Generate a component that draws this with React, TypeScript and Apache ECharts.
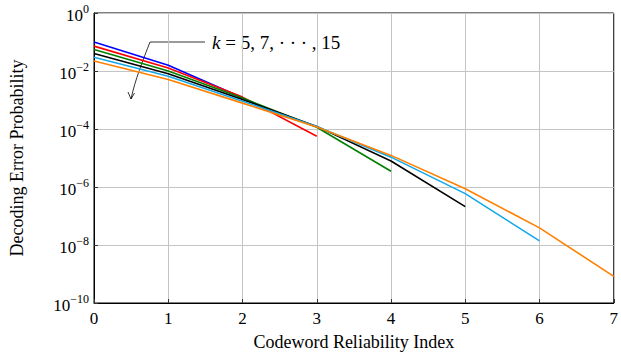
import React, { useEffect, useRef } from "react";
import * as echarts from "echarts";

const xCategories = [0, 1, 2, 3, 4, 5, 6, 7];
const seriesNames = ["k=5", "k=7", "k=9", "k=11", "k=13", "k=15"];
const seriesColors = ["#0000ff", "#ff0000", "#008000", "#000000", "#13a8e8", "#ff8000"];
const k5 = [1.0e-1, 1.58e-2, 1.2e-3];
const k7 = [7.2e-2, 1.26e-2, 1.26e-3, 5.6e-5];
const k9 = [5.5e-2, 1.0e-2, 1.17e-3, 1.15e-4, 3.5e-6];
const k11 = [4.0e-2, 8.1e-3, 1.05e-3, 1.23e-4, 7.9e-6, 2.1e-7];
const k13 = [3.0e-2, 6.6e-3, 9.1e-4, 1.23e-4, 1.07e-5, 5.9e-7, 1.38e-8];
const k15 = [2.2e-2, 5.1e-3, 7.8e-4, 1.17e-4, 1.23e-5, 8.7e-7, 3.9e-8, 8.3e-10];
const allSeries = [k5, k7, k9, k11, k13, k15];

const FONT = "Liberation Serif";

export default function App() {
  const ref = useRef<HTMLDivElement>(null);
  useEffect(() => {
    document.body.style.margin = "0";
    const chart = echarts.init(ref.current!, null, { renderer: "svg" });
    chart.setOption({
      animation: false,
      backgroundColor: "#ffffff",
      textStyle: { fontFamily: FONT },
      grid: {
        left: 93,
        right: 3,
        top: 13,
        bottom: 53,
        show: true,
        borderColor: "#000",
        borderWidth: 1,
        backgroundColor: "transparent",
      },
      xAxis: {
        type: "value",
        min: 0,
        max: 7,
        interval: 1,
        name: "Codeword Reliability Index",
        nameLocation: "middle",
        nameGap: 30,
        nameTextStyle: { fontFamily: FONT, fontSize: 18, color: "#000" },
        axisLine: { lineStyle: { color: "#000", width: 1 } },
        axisTick: { inside: true, length: 4, lineStyle: { color: "#333" } },
        axisLabel: { fontFamily: FONT, fontSize: 17, color: "#000", margin: 7 },
        splitLine: { show: true, lineStyle: { color: "#c4c4c4", width: 1 } },
      },
      yAxis: {
        type: "log",
        logBase: 10,
        min: 1e-10,
        max: 1,
        interval: 2,
        name: "Decoding Error Probability",
        nameLocation: "middle",
        nameGap: 68,
        nameTextStyle: { fontFamily: FONT, fontSize: 18, color: "#000" },
        axisLine: { show: true, lineStyle: { color: "#000", width: 1 } },
        axisTick: { show: true, inside: true, length: 4, lineStyle: { color: "#333" } },
        minorTick: { show: false },
        axisLabel: {
          margin: 5,
          formatter: (v: number) => {
            const e = Math.round(Math.log10(v));
            return "{b|10}{s|" + (e < 0 ? "−" + -e : String(e)) + "}";
          },
          rich: {
            b: { fontFamily: FONT, fontSize: 17, color: "#000", verticalAlign: "bottom" },
            s: { fontFamily: FONT, fontSize: 12, color: "#000", verticalAlign: "top", padding: [0, 0, 9, 0] },
          },
        },
        splitLine: { show: true, lineStyle: { color: "#c4c4c4", width: 1 } },
      },
      series: allSeries.map((arr, i) => ({
        name: seriesNames[i],
        type: "line",
        data: arr.map((v, j) => [xCategories[j], v]),
        showSymbol: false,
        symbol: "none",
        lineStyle: { color: seriesColors[i], width: 1.6 },
        itemStyle: { color: seriesColors[i] },
        z: 2 + i,
      })),
      graphic: [
        { type: "line", shape: { x1: 205, y1: 42, x2: 150, y2: 42 }, style: { stroke: "#000", lineWidth: 0.8 } },
        {
          type: "bezierCurve",
          shape: { x1: 150, y1: 42, cpx1: 143, cpy1: 60, cpx2: 135, cpy2: 80, x2: 131, y2: 99 },
          style: { stroke: "#000", lineWidth: 0.8, fill: "none" },
        },
        {
          type: "polyline",
          shape: { points: [[128, 92], [131, 99], [134.5, 93]] },
          style: { stroke: "#000", lineWidth: 0.8, fill: "none" },
        },
        {
          type: "text",
          x: 212,
          y: 42,
          style: {
            text: "{i|k} = 5, 7, · · · , 15",
            fontFamily: FONT,
            fontSize: 19,
            fill: "#000",
            verticalAlign: "middle",
            rich: { i: { fontFamily: FONT, fontStyle: "italic", fontSize: 19, fill: "#000" } },
          },
        },
      ],
    });
    return () => chart.dispose();
  }, []);
  return <div ref={ref} style={{ width: 621, height: 356 }} />;
}
